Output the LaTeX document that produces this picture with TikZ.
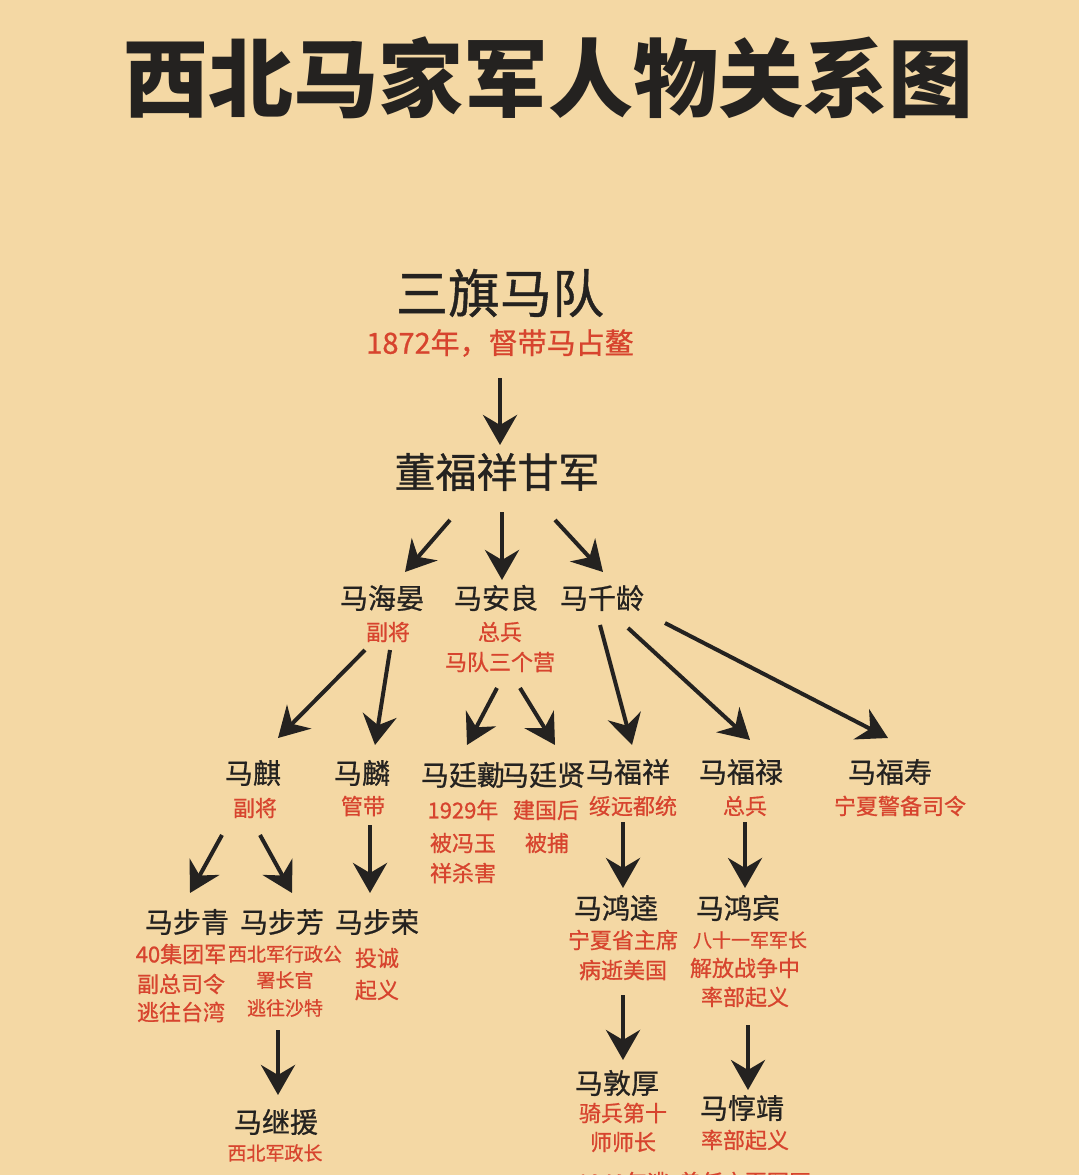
\documentclass[tikz,border=0pt]{standalone}
\usepackage{fontspec}
\newfontfamily\cjk[FakeBold=0.8]{Noto Sans CJK SC}
\newfontfamily\cjktitle{Noto Sans CJK SC}
\usetikzlibrary{arrows.meta, calc}
\definecolor{paper}{RGB}{244,216,164}
\definecolor{ink}{RGB}{36,34,32}
\definecolor{notered}{RGB}{215,68,46}

\begin{document}
\begin{tikzpicture}[x=1pt, y=-1pt,
  arr/.style={line width=4pt, draw=ink, -{Stealth[length=30pt, width=34pt, inset=10pt]}},
  person/.style={inner sep=0pt, text=ink, font=\cjk\fontsize{28}{32}\selectfont},
  note/.style={inner sep=0pt, text=notered, font=\cjk\fontsize{22}{26}\selectfont},
  smallnote/.style={note, font=\cjk\fontsize{19}{22}\selectfont}
]

  \useasboundingbox (0,0) rectangle (1079,1175);
  \clip (0,0) rectangle (1079,1175);
  \fill[paper] (0,0) rectangle (1079,1175);

  % title
  \node[inner sep=0pt, text=ink, font=\cjktitle\bfseries\fontsize{85}{95}\selectfont] (title) at (548,78) {西北马家军人物关系图};

  % top
  \node[person, font=\cjk\fontsize{52}{58}\selectfont] (sanqi) at (500,293) {三旗马队};
  \node[note, font=\cjk\fontsize{29}{33}\selectfont] (sanqin) at (500,343) {1872年，督带马占鳌};
  \node[person, font=\cjk\fontsize{41}{46}\selectfont] (dong) at (497,472) {董福祥甘军};
  \draw[arr] ($(sanqin)+(0,35)$) -- ($(dong)+(3,-27)$);

  % second row
  \node[person] (hai) at (382,598) {马海晏};
  \node[note] (hain) at (388,632) {副将};
  \node[person] (an) at (496,598) {马安良};
  \node[note] (ann) at (500,632) {总兵};
  \node[note] (ann2) at (500,662) {马队三个营};
  \node[person] (qian) at (602,598) {马千龄};
  \draw[arr] ($(dong)+(-47,48)$) -- ($(hai)+(23,-26)$);
  \draw[arr] ($(dong)+(5,40)$) -- ($(an)+(6,-18)$);
  \draw[arr] ($(dong)+(58,48)$) -- ($(qian)+(1,-26)$);

  % third row
  \node[person] (qi) at (253,773) {马麒};
  \node[note] (qin) at (255,808) {副将};
  \node[person] (lin) at (362,773) {马麟};
  \node[note] (linn) at (363,806) {管带};
  \node[person] (tingxiang) at (463,775) {马廷勷};
  \node[note] (tingxiangn) at (463,810) {1929年};
  \node[note] (tingxiangn2) at (463,843) {被冯玉};
  \node[note] (tingxiangn3) at (463,873) {祥杀害};
  \node[person] (tingxian) at (543,775) {马廷贤};
  \node[note] (tingxiann) at (546,810) {建国后};
  \node[note] (tingxiann2) at (547,843) {被捕};
  \node[person] (fuxiang) at (628,772) {马福祥};
  \node[note] (fuxiangn) at (633,806) {绥远都统};
  \node[person] (fulu) at (741,772) {马福禄};
  \node[note] (fulun) at (745,806) {总兵};
  \node[person] (fushou) at (890,772) {马福寿};
  \node[note] (fushoun) at (900,806) {宁夏警备司令};

  \draw[arr] ($(hain)+(-23,18)$) -- ($(qi)+(25,-35)$);
  \draw[arr] ($(hain)+(2,18)$) -- ($(lin)+(13,-28)$);
  \draw[arr] ($(ann2)+(-3,26)$) -- ($(tingxiang)+(4,-30)$);
  \draw[arr] ($(ann2)+(20,26)$) -- ($(tingxian)+(12,-30)$);
  \draw[arr] ($(qian)+(-2,27)$) -- ($(fuxiang)+(4,-27)$);
  \draw[arr] ($(qian)+(26,30)$) -- ($(fulu)+(9,-32)$);
  \draw[arr] ($(qian)+(63,25)$) -- ($(fushou)+(-2,-34)$);

  % fourth row
  \node[person] (buqing) at (187,922) {马步青};
  \node[note] (buqingn) at (181,954) {40集团军};
  \node[note] (buqingn2) at (181,984) {副总司令};
  \node[note] (buqingn3) at (181,1012) {逃往台湾};
  \node[person] (bufang) at (282,922) {马步芳};
  \node[smallnote] (bufangn) at (285,954) {西北军行政公};
  \node[smallnote] (bufangn2) at (285,980) {署长官};
  \node[smallnote] (bufangn3) at (285,1008) {逃往沙特};
  \node[person] (burong) at (377,922) {马步荣};
  \node[note] (burongn) at (377,958) {投诚};
  \node[note] (burongn2) at (377,990) {起义};
  \node[person] (hongkui) at (616,908) {马鸿逵};
  \node[note] (hongkuin) at (623,940) {宁夏省主席};
  \node[note] (hongkuin2) at (623,970) {病逝美国};
  \node[person] (hongbin) at (738,908) {马鸿宾};
  \node[smallnote] (hongbinn) at (750,940) {八十一军军长};
  \node[note] (hongbinn2) at (745,968) {解放战争中};
  \node[note] (hongbinn3) at (745,997) {率部起义};

  \draw[arr] ($(qin)+(-33,27)$) -- ($(buqing)+(3,-29)$);
  \draw[arr] ($(qin)+(5,27)$) -- ($(bufang)+(10,-29)$);
  \draw[arr] ($(linn)+(7,19)$) -- ($(burong)+(-7,-29)$);
  \draw[arr] ($(fuxiangn)+(-10,16)$) -- ($(hongkui)+(7,-20)$);
  \draw[arr] ($(fulun)+(0,16)$) -- ($(hongbin)+(7,-20)$);

  % fifth row
  \node[person] (jiyuan) at (276,1122) {马继援};
  \node[smallnote] (jiyuann) at (275,1153) {西北军政长};
  \node[person] (dunhou) at (617,1083) {马敦厚};
  \node[note] (dunhoun) at (623,1113) {骑兵第十};
  \node[note] (dunhoun2) at (623,1142) {师师长};
  \node[note] (dunhoun3) at (623,1182) {1949年逃};
  \node[person] (chunjing) at (742,1108) {马惇靖};
  \node[note] (chunjingn) at (745,1140) {率部起义};
  \node[note] (chunjingn2) at (745,1182) {曾任宁夏军区};

  \draw[arr] ($(bufangn3)+(-7,22)$) -- ($(jiyuan)+(2,-27)$);
  \draw[arr] ($(hongkuin2)+(0,25)$) -- ($(dunhou)+(6,-23)$);
  \draw[arr] ($(hongbinn3)+(3,28)$) -- ($(chunjing)+(6,-18)$);

\end{tikzpicture}
\end{document}
